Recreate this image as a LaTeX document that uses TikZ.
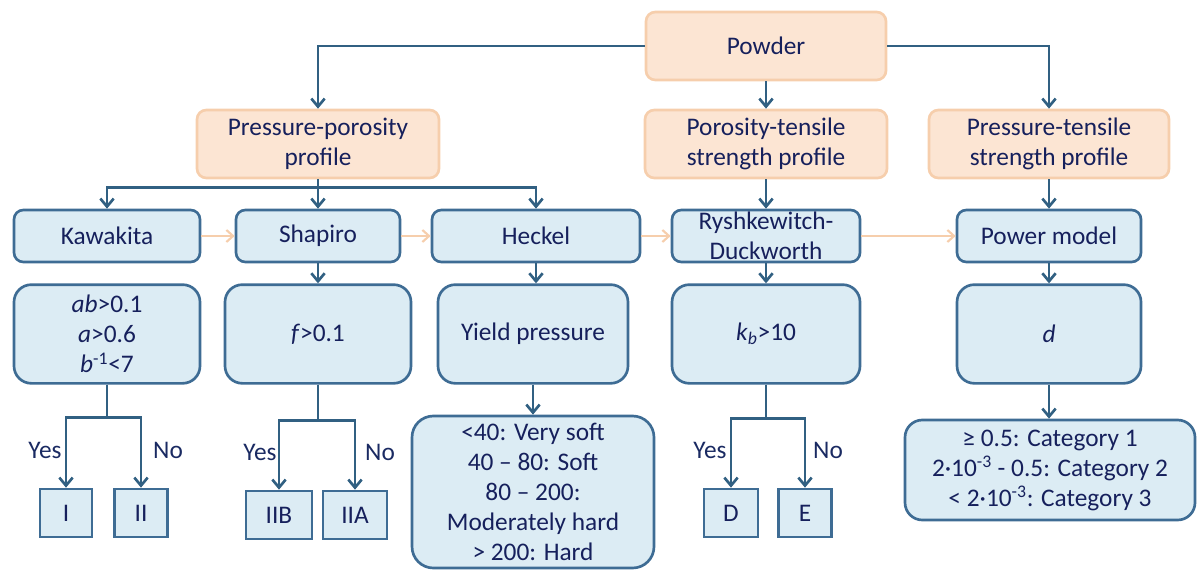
\documentclass[tikz,border=0pt]{standalone}
\usepackage{fontspec}
\setmainfont{Carlito}
\usepackage{tikz}
\usepackage{xcolor}
\usetikzlibrary{arrows.meta,positioning}
\definecolor{flowline}{RGB}{49,96,130}
\definecolor{flowedge}{RGB}{62,108,148}
\definecolor{flowfill}{RGB}{220,236,244}
\definecolor{flowtext}{RGB}{22,32,92}
\definecolor{orfill}{RGB}{252,229,211}
\definecolor{oredge}{RGB}{246,206,172}

\begin{document}
\begin{tikzpicture}[x=0.75pt,y=-0.75pt,
  font=\fontsize{19}{22.5}\selectfont,
  box/.style={draw=flowedge,fill=flowfill,line width=2pt,rounded corners=7pt,
    text=flowtext,align=center,inner sep=0pt},
  bigbox/.style={box,rounded corners=13pt,minimum height=74pt},
  srcbox/.style={box,draw=oredge,fill=orfill,minimum height=51pt},
  classbox/.style={box,rounded corners=0pt,minimum height=36pt},
  conn/.style={draw=flowline,line width=2.2pt,-{Straight Barb[length=6pt,width=10pt,line width=2pt]}},
  trans/.style={draw=oredge,line width=1.6pt,-{Straight Barb[length=5pt,width=9pt,line width=1.6pt]}},
  yn/.style={text=flowtext!85!flowline}]
  \useasboundingbox (0,0) rectangle (1198,570);

  % sources
  \node[srcbox,minimum width=180pt] (powder) at (766,46) {Powder};
  \node[srcbox,minimum width=181.5pt] (pp) at (318,144) {Pressure-porosity\\profile};
  \node[srcbox,minimum width=181.5pt] (pt) at (766,144) {Porosity-tensile\\strength profile};
  \node[srcbox,minimum width=180pt] (ps) at (1049,144) {Pressure-tensile\\strength profile};

  % models
  \node[box,minimum width=139.5pt,minimum height=39pt] (kaw) at (107,236) {Kawakita};
  \node[box,minimum width=123pt,minimum height=39pt] (sha) at (318,236) {Shapiro};
  \node[box,minimum width=156pt,minimum height=39pt] (hec) at (536,236) {Heckel};
  \node[box,minimum width=141pt,minimum height=39pt] (rd) at (766,236) {Ryshkewitch-\\Duckworth};
  \node[box,minimum width=138pt,minimum height=39pt] (pow) at (1049,236) {Power model};

  % criteria
  \node[bigbox,minimum width=139.5pt] (crkaw) at (107,334) {\textit{ab}>0.1\\\textit{a}>0.6\\\textit{b}\textsuperscript{-1}<7};
  \node[bigbox,minimum width=139.5pt] (crsha) at (318,334) {\textit{f}>0.1};
  \node[bigbox,minimum width=142.5pt] (crhec) at (533,334) {Yield pressure};
  \node[bigbox,minimum width=141pt] (crrd) at (766,334) {\textit{k}\textsubscript{\textit{b}}>10};
  \node[bigbox,minimum width=138pt] (crpow) at (1049,334) {\textit{d}};

  % classes
  \node[classbox,minimum width=39pt] (cI) at (66,513) {I};
  \node[classbox,minimum width=40pt] (cII) at (141,513) {II};
  \node[classbox,minimum width=49.5pt] (cIIB) at (279,515) {IIB};
  \node[classbox,minimum width=48pt] (cIIA) at (355,515) {IIA};
  \node[classbox,minimum width=40.5pt] (cD) at (731,513) {D};
  \node[classbox,minimum width=40pt] (cE) at (805,513) {E};
  \node[bigbox,minimum width=181.5pt,minimum height=114pt,rounded corners=16pt] (hard) at (533,492)
    {<40: Very soft\\40 – 80: Soft\\80 – 200:\\Moderately hard\\> 200: Hard};
  \node[bigbox,minimum width=217.5pt,minimum height=75pt] (cat) at (1050,470)
    {≥ 0.5: Category 1\\2·10\textsuperscript{-3} - 0.5: Category 2\\< 2·10\textsuperscript{-3}: Category 3};

  % from powder
  \draw[conn] (powder.west) -| (pp.north);
  \draw[conn] (powder.east) -| (ps.north);
  \draw[conn] (powder.south) -- (pt.north);

  % from profiles
  \draw[conn] (pp.south) -- ++(0,8) -| (kaw.north);
  \draw[conn] (pp.south) -- ++(0,8) -| (hec.north);
  \draw[conn] (pp.south) -- (sha.north);
  \draw[conn] (pt.south) -- (rd.north);
  \draw[conn] (ps.south) -- (pow.north);

  % model sequence
  \draw[trans] (kaw) -- (sha);
  \draw[trans] (sha) -- (hec);
  \draw[trans] (hec) -- (rd);
  \draw[trans] (rd) -- (pow);

  % criteria
  \draw[conn] (sha) -- (crsha);
  \draw[conn] (hec.south) -- (hec.south |- crhec.north);
  \draw[conn] (rd) -- (crrd);
  \draw[conn] (pow) -- (crpow);
  \draw[conn] (crhec) -- (hard);
  \draw[conn] (crpow.south) -- (crpow.south |- cat.north);

  % yes / no
  \draw[conn] (crkaw.south) -- ++(0,33) -| (cI.north);
  \draw[conn] (crkaw.south) -- ++(0,33) -| (cII.north);
  \draw[conn] (crsha.south) -- ++(0,36) -| (cIIB.north);
  \draw[conn] (crsha.south) -- ++(0,36) -| (cIIA.north);
  \draw[conn] (crrd.south) -- ++(0,34) -| (cD.north);
  \draw[conn] (crrd.south) -- ++(0,34) -| (cE.north);

  \node[yn] (y1) at (45,450) {Yes};
  \node[yn] (n1) at (168,450) {No};
  \node[yn] (y2) at (260,452) {Yes};
  \node[yn] (n2) at (380,452) {No};
  \node[yn] (y3) at (710,450) {Yes};
  \node[yn] (n3) at (828,450) {No};
\end{tikzpicture}
\end{document}
